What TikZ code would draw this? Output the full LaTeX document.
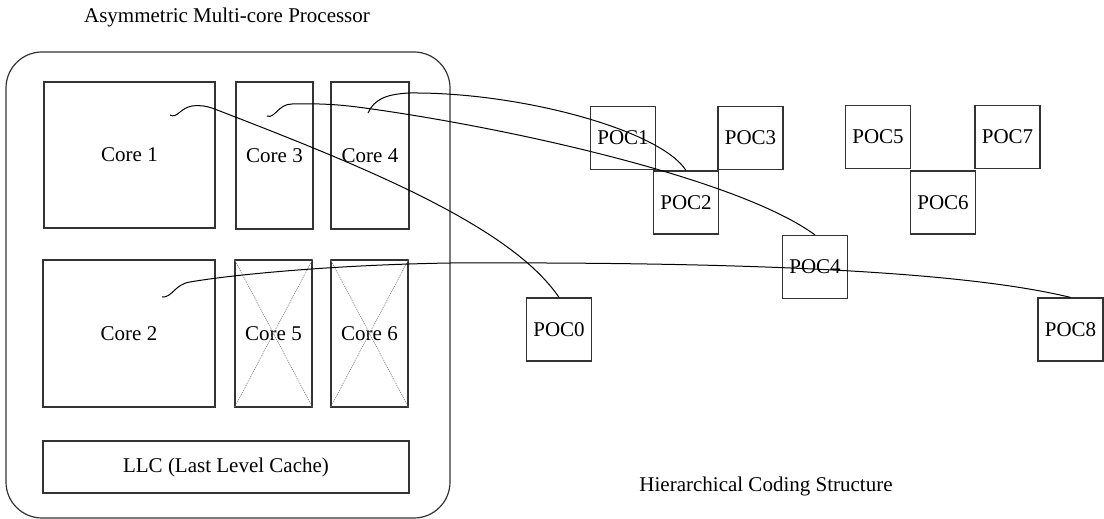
\documentclass[tikz,border=0pt]{standalone}
\usepackage{fontspec}
\setmainfont{Liberation Serif}
\newfontfamily\lserif{Liberation Serif}
\begin{document}
\begin{tikzpicture}[x=1pt,y=-1pt,
  boxline/.style={draw=black!80, line width=1.2pt},
  corebox/.style={boxline, rectangle, inner sep=0pt, font=\lserif\fontsize{21}{24}\selectfont},
  pocbox/.style={boxline, rectangle, inner sep=0pt, minimum width=65pt, minimum height=63pt, font=\lserif\fontsize{21}{24}\selectfont},
  lbl/.style={inner sep=0pt, font=\lserif\fontsize{21}{24}\selectfont},
  conn/.style={draw=black, line width=1pt},
  xline/.style={draw=black!50, line width=0.7pt, dash pattern=on 1pt off 1pt}]
\useasboundingbox (0,0) rectangle (1104,519);
% title
\node[lbl] (title) at (227,17) {Asymmetric Multi-core Processor};
% outer processor
\draw[boxline, rounded corners=36pt] (6,52) rectangle (450,518);
% cores
\node[corebox, minimum width=171pt, minimum height=146pt] (c1) at (129.5,155) {Core 1};
\node[corebox, minimum width=77pt, minimum height=147pt] (c3) at (274.5,155.5) {Core 3};
\node[corebox, minimum width=78pt, minimum height=147pt] (c4) at (370,155.5) {Core 4};
\node[corebox, minimum width=172pt, minimum height=147pt] (c2) at (129,333.5) {Core 2};
\node[corebox, minimum width=77pt, minimum height=147pt] (c5) at (273.5,333.5) {Core 5};
\node[corebox, minimum width=77pt, minimum height=147pt] (c6) at (369.5,333.5) {Core 6};
\node[corebox, minimum width=366pt, minimum height=52pt] (llc) at (226,467) {LLC (Last Level Cache)};
% crosses on disabled cores
\draw[xline] (c5.north west) -- (c5.south east);
\draw[xline] (c5.north east) -- (c5.south west);
\draw[xline] (c6.north west) -- (c6.south east);
\draw[xline] (c6.north east) -- (c6.south west);
% POCs
\node[pocbox] (p0) at (559,329.5) {POC0};
\node[pocbox] (p1) at (623,138) {POC1};
\node[pocbox] (p2) at (686,202.5) {POC2};
\node[pocbox] (p3) at (750.5,138) {POC3};
\node[pocbox] (p4) at (815,267) {POC4};
\node[pocbox] (p5) at (878,137) {POC5};
\node[pocbox] (p6) at (943,202.5) {POC6};
\node[pocbox] (p7) at (1007.5,137) {POC7};
\node[pocbox] (p8) at (1070.5,329.5) {POC8};
\node[lbl] (hcs) at (766,486) {Hierarchical Coding Structure};
% connector start points inside cores
\coordinate (s1) at (170,115);
\coordinate (s3) at (267,116);
\coordinate (s4) at (368,113);
\coordinate (s2) at (162,297);
% connectors
\draw[conn] (s1) .. controls (177,119) and (180,108) .. (192,106)
  .. controls (200,105) and (206,106) .. (212,108)
  .. controls (360,165) and (510,225) .. (p0.north);
\draw[conn] (s3) .. controls (275,119) and (278,104) .. (292,104)
  .. controls (330,103) and (350,106) .. (372,109)
  .. controls (520,130) and (740,180) .. (p4.north);
\draw[conn] (s4) .. controls (374,100) and (385,94) .. (410,93)
  .. controls (520,92) and (660,130) .. (p2.north);
\draw[conn] (s2) .. controls (172,298) and (175,284) .. (190,282)
  .. controls (230,275) and (330,265) .. (450,263)
  .. controls (700,262) and (950,268) .. (p8.north);
\end{tikzpicture}
\end{document}
